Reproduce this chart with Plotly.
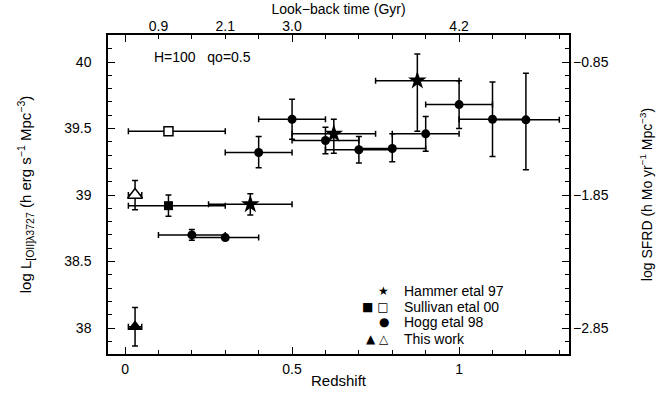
import plotly.graph_objects as go

# ---------------- data ----------------
# Hogg et al. 98 (filled circles)
hogg_z = [0.2, 0.3, 0.4, 0.5, 0.6, 0.7, 0.8, 0.9, 1.0, 1.1, 1.2]
hogg_zerr = [0.1] * 11
hogg_L = [38.70, 38.68, 39.32, 39.57, 39.41, 39.34, 39.35, 39.46, 39.68, 39.57, 39.565]
hogg_Lplus = [0.04, 0.02, 0.12, 0.15, 0.10, 0.10, 0.11, 0.13, 0.18, 0.28, 0.35]
hogg_Lminus = [0.04, 0.02, 0.115, 0.15, 0.10, 0.10, 0.10, 0.13, 0.18, 0.28, 0.375]

# Hammer et al. 97 (filled stars)
ham_z = [0.375, 0.625, 0.875]
ham_zerr = [0.125, 0.125, 0.125]
ham_L = [38.93, 39.46, 39.86]
ham_Lplus = [0.08, 0.11, 0.20]
ham_Lminus = [0.08, 0.145, 0.38]

# Sullivan et al. 00 (filled / open squares)
sul_z = [0.13]
sul_zminus = [0.12]
sul_zplus = [0.17]
sul_L_filled = [38.92]
sul_Lerr_filled = [0.08]
sul_L_open = [39.48]

# This work (filled / open triangles)
tw_z = [0.03]
tw_zerr = [0.02]
tw_L_filled = [38.01]
tw_Lerr_filled = [0.145]
tw_L_open = [39.00]
tw_Lerr_open = [0.11]

# axes
x_range = [-0.051, 1.329]
y_range = [37.805, 40.203]
sfrd_offset = 40.85
left_ticks = [38, 38.5, 39, 39.5, 40]
left_tick_labels = ["38", "38.5", "39", "39.5", "40"]
right_ticks = [-2.85, -1.85, -0.85]
right_tick_labels = ["\u22122.85", "\u22121.85", "\u22120.85"]
bottom_ticks = [0, 0.5, 1]
bottom_tick_labels = ["0", "0.5", "1"]
top_tick_z = [0.1, 0.3, 0.5, 1.0]
top_tick_labels = ["0.9", "2.1", "3.0", "4.2"]

legend_labels = ["Hammer etal 97", "Sullivan etal 00", "Hogg etal 98", "This work"]
legend_symbols = ["\u2605", "\u25A0 \u25A1", "\u25CF", "\u25B2 \u25B3"]

FONT = "Liberation Sans, Arial, sans-serif"
BLACK = "black"

fig = go.Figure()


def ebar(arr=None, plus=None, minus=None, width=3):
    d = dict(type="data", color=BLACK, thickness=1.5, width=width, visible=True)
    if plus is not None:
        d.update(symmetric=False, array=plus, arrayminus=minus)
    else:
        d.update(symmetric=True, array=arr)
    return d


fig.add_trace(go.Scatter(
    x=hogg_z, y=hogg_L, mode="markers",
    marker=dict(symbol="circle", size=9, color=BLACK),
    error_x=ebar(arr=hogg_zerr), error_y=ebar(plus=hogg_Lplus, minus=hogg_Lminus),
    showlegend=False))

fig.add_trace(go.Scatter(
    x=sul_z, y=sul_L_open, mode="markers",
    marker=dict(symbol="square", size=9, color="white", line=dict(color=BLACK, width=1.5)),
    error_x=ebar(plus=sul_zplus, minus=sul_zminus),
    showlegend=False))

fig.add_trace(go.Scatter(
    x=sul_z, y=sul_L_filled, mode="markers",
    marker=dict(symbol="square", size=9, color=BLACK),
    error_x=ebar(plus=sul_zplus, minus=sul_zminus), error_y=ebar(arr=sul_Lerr_filled),
    showlegend=False))

fig.add_trace(go.Scatter(
    x=ham_z, y=ham_L, mode="markers",
    marker=dict(symbol="star", size=14, color=BLACK),
    error_x=ebar(arr=ham_zerr), error_y=ebar(plus=ham_Lplus, minus=ham_Lminus),
    showlegend=False))

fig.add_trace(go.Scatter(
    x=tw_z, y=tw_L_open, mode="markers",
    marker=dict(symbol="triangle-up", size=13, color="white", line=dict(color=BLACK, width=1.5)),
    error_x=ebar(arr=tw_zerr), error_y=ebar(arr=tw_Lerr_open),
    showlegend=False))

fig.add_trace(go.Scatter(
    x=tw_z, y=tw_L_filled, mode="markers",
    marker=dict(symbol="triangle-up", size=13, color=BLACK),
    error_x=ebar(arr=tw_zerr), error_y=ebar(arr=tw_Lerr_filled),
    showlegend=False))

# invisible traces to activate secondary axes
fig.add_trace(go.Scatter(x=[None], y=[None], xaxis="x2", yaxis="y", showlegend=False))
fig.add_trace(go.Scatter(x=[None], y=[None], xaxis="x", yaxis="y2", showlegend=False))

tickfont = dict(family=FONT, size=14, color=BLACK)

fig.update_layout(
    width=663, height=394,
    margin=dict(l=108, r=94, t=35, b=40, autoexpand=False),
    paper_bgcolor="white", plot_bgcolor="white",
    font=dict(family=FONT, size=14, color=BLACK),
    xaxis=dict(
        range=x_range, showgrid=False, zeroline=False, automargin=False,
        showline=True, linecolor=BLACK, linewidth=1.5, mirror="ticks",
        tickvals=bottom_ticks, ticktext=bottom_tick_labels,
        ticks="inside", ticklen=7, tickwidth=1.2, tickcolor=BLACK,
        minor=dict(dtick=0.1, ticks="inside", ticklen=4, tickwidth=1.2, tickcolor=BLACK, showgrid=False),
        tickfont=tickfont, ticklabelstandoff=1,
        title=dict(text="Redshift", font=dict(family=FONT, size=15), standoff=0),
    ),
    xaxis2=dict(
        range=x_range, overlaying="x", side="top", showgrid=False, zeroline=False, automargin=False,
        showline=False, tickvals=top_tick_z, ticktext=top_tick_labels, ticks="",
        tickfont=tickfont, ticklabelstandoff=0,
        title=dict(text="Look\u2212back time (Gyr)", font=dict(family=FONT, size=14), standoff=0),
    ),
    yaxis=dict(
        range=y_range, showgrid=False, zeroline=False, automargin=False,
        showline=True, linecolor=BLACK, linewidth=1.5, mirror="ticks",
        tickvals=left_ticks, ticktext=left_tick_labels,
        ticks="inside", ticklen=7, tickwidth=1.2, tickcolor=BLACK,
        minor=dict(dtick=0.1, ticks="inside", ticklen=4, tickwidth=1.2, tickcolor=BLACK, showgrid=False),
        tickfont=tickfont, ticklabelstandoff=12,
        title=dict(text="log L<sub>[OII]\u03bb3727</sub> (h erg s<sup>\u22121</sup> Mpc<sup>\u22123</sup>)",
                   font=dict(family=FONT, size=15), standoff=29),
    ),
    yaxis2=dict(
        range=[y_range[0] - sfrd_offset, y_range[1] - sfrd_offset], overlaying="y", side="right",
        showgrid=False, zeroline=False, showline=False, automargin=False,
        tickvals=right_ticks, ticktext=right_tick_labels, ticks="",
        tickfont=tickfont, ticklabelstandoff=3,
        title=dict(text="log SFRD (h Mo yr<sup>\u22121</sup> Mpc<sup>\u22123</sup>)",
                   font=dict(family=FONT, size=14), standoff=34),
    ),
)

# annotation H, qo
fig.add_annotation(x=(152 - 108) / 461, y=(354 - 57) / 319, xref="paper", yref="paper",
                   xanchor="left", yanchor="middle", showarrow=False,
                   text="H=100\u00a0\u00a0\u00a0qo=0.5", font=dict(family=FONT, size=14, color=BLACK))

# legend (text)
row_y = [291, 306.5, 322, 339]
for lab, sym, py in zip(legend_labels, legend_symbols, row_y):
    fig.add_annotation(x=(402 - 108) / 461, y=(354 - py) / 319, xref="paper", yref="paper",
                       xanchor="left", yanchor="middle", showarrow=False,
                       text=lab, font=dict(family=FONT, size=14, color=BLACK))
    fig.add_annotation(x=(391 - 108) / 461, y=(354 - py) / 319, xref="paper", yref="paper",
                       xanchor="right", yanchor="middle", showarrow=False,
                       text=sym, font=dict(family="DejaVu Sans", size=12, color=BLACK))

fig.write_html("out.html", config={"displayModeBar": False},
               post_script="document.body.style.margin='0';document.body.style.overflow='hidden';")
